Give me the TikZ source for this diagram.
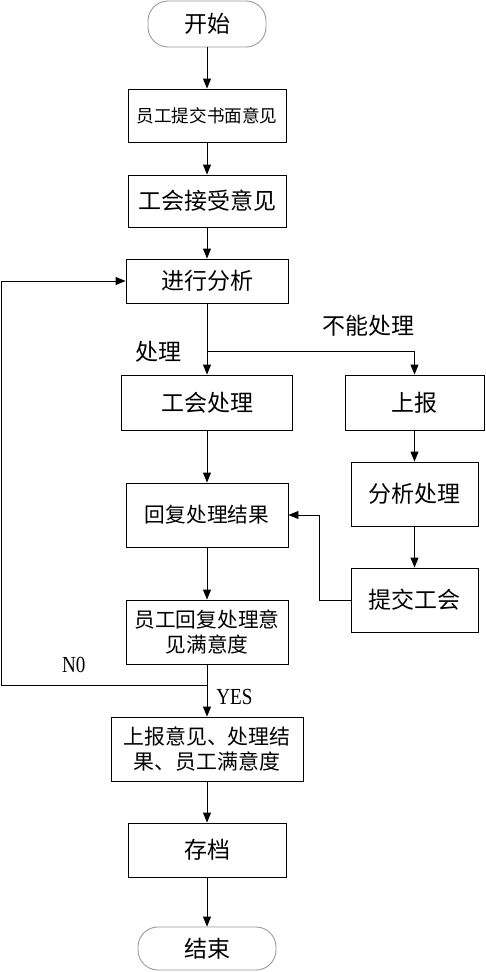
\documentclass[tikz,border=0pt]{standalone}
\usepackage{fontspec}
\setmainfont{Liberation Serif}
\newfontfamily\cjk{Noto Sans CJK SC}
\newfontfamily\latn[FakeStretch=0.83]{Liberation Serif}
\usetikzlibrary{arrows.meta}
\tikzset{
  box/.style={draw=black, line width=0.9pt, minimum width=#1, inner sep=0pt, align=center, font=\cjk\fontsize{23}{26}\selectfont},
  term/.style={draw=gray!80, line width=0.9pt, rounded corners=20pt, inner sep=0pt, font=\cjk\fontsize{23}{26}\selectfont},
  arr/.style={line width=0.9pt, -{Triangle[width=8pt,length=10pt]}},
  lbl/.style={inner sep=0pt, font=\cjk\fontsize{23}{26}\selectfont},
  lat/.style={inner sep=0pt, font=\latn\fontsize{23}{26}\selectfont}
}
\begin{document}
\begin{tikzpicture}[x=1pt,y=-1pt]
\useasboundingbox (0,0) rectangle (485,972);
\node[term, minimum width=118pt, minimum height=46pt] (start) at (207,24) {开始};
\node[box=158pt, minimum height=53pt, font=\cjk\fontsize{17.6}{20}\selectfont] (b1) at (207,115.5) {员工提交书面意见};
\node[box=158pt, minimum height=52pt] (b2) at (207,201) {工会接受意见};
\node[box=162pt, minimum height=44pt] (b3) at (207,281) {进行分析};
\node[box=171pt, minimum height=55pt] (b4) at (207,402.5) {工会处理};
\node[box=139pt, minimum height=55pt] (b5) at (414.5,402.5) {上报};
\node[box=127pt, minimum height=64pt] (b6) at (414.5,494) {分析处理};
\node[box=127pt, minimum height=64pt] (b7) at (414.5,600) {提交工会};
\node[box=162pt, minimum height=64pt, font=\cjk\fontsize{20.7}{25.6}\selectfont] (b8) at (207,515) {回复处理结果};
\node[box=162pt, minimum height=64pt, font=\cjk\fontsize{20.7}{25.6}\selectfont] (b9) at (207,632) {员工回复处理意\\见满意度};
\node[box=192pt, minimum height=64pt, font=\cjk\fontsize{20.9}{25.7}\selectfont] (b10) at (207,749) {上报意见、处理结\\果、员工满意度};
\node[box=158pt, minimum height=54pt] (b11) at (207,850) {存档};
\node[term, minimum width=138pt, minimum height=43pt] (end) at (207,948.5) {结束};

\coordinate (split) at (207,351);
\coordinate (junc) at (207,685);
\coordinate (loopL) at (1,685);
\coordinate (retx) at (319,600);

\draw[arr] (start) -- (b1);
\draw[arr] (b1) -- (b2);
\draw[arr] (b2) -- (b3);
\draw[arr] (b3) -- (b4);
\draw[arr] (split) -| (b5);
\draw[arr] (b4) -- (b8);
\draw[arr] (b8) -- (b9);
\draw[arr] (b5) -- (b6);
\draw[arr] (b6) -- (b7);
\draw[arr] (b7.west) -- (retx) |- (b8.east);
\draw[arr] (b9) -- (b10);
\draw[arr] (junc) -- (loopL) |- (b3.west);
\draw[arr] (b10) -- (b11);
\draw[arr] (b11) -- (end);

\node[lbl] (lchu) at (158.5,352) {处理};
\node[lbl] (lbn) at (368.5,326) {不能处理};
\node[lat] (lno) at (73.7,664.5) {N0};
\node[lat] (lyes) at (234.4,696.5) {YES};
\end{tikzpicture}
\end{document}
